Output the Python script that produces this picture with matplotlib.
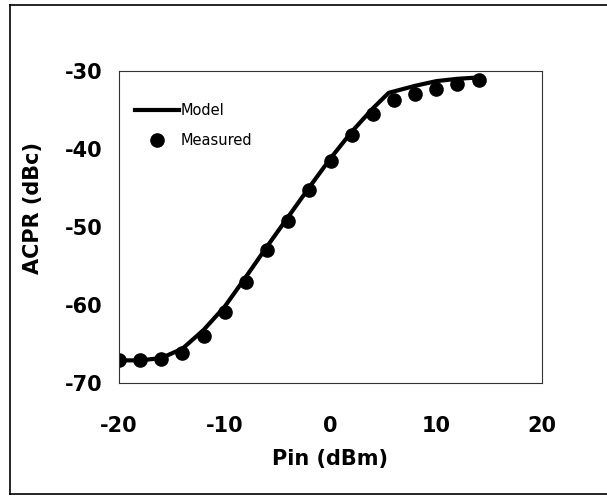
import matplotlib
matplotlib.use("Agg")
import matplotlib.pyplot as plt
from matplotlib.lines import Line2D

# Pin (dBm)
pin_measured = [-20, -18, -16, -14, -12, -10, -8, -6, -4, -2, 0, 2, 4, 6, 8, 10, 12, 14]
acpr_measured = [-67.1, -67.1, -66.9, -66.1, -64.0, -60.9, -57.0, -53.0, -49.2, -45.3,
                 -41.6, -38.2, -35.5, -33.7, -32.9, -32.3, -31.7, -31.2]

pin_model = [-20, -18, -16, -14, -12, -10, -8, -6, -4, -2, 0, 2, 4, 5.5, 8, 10, 12, 14.3]
acpr_model = [-67.1, -67.1, -66.8, -65.6, -63.2, -60.2, -56.4, -52.5, -48.7, -44.9,
              -41.2, -37.8, -34.8, -32.8, -31.9, -31.3, -31.0, -30.8]

xticks = [-20, -10, 0, 10, 20]
yticks = [-70, -60, -50, -40, -30]

plt.rcParams['font.family'] = ['DejaVu Sans']

W, H = 607, 496
fig = plt.figure(figsize=(W / 100, H / 100), dpi=100)
ax = fig.add_axes([119 / W, 1 - 383 / H, (542 - 119) / W, (383 - 71) / H])

ax.plot(pin_model, acpr_model, color='black', linewidth=3.0, solid_joinstyle='round')
ax.plot(pin_measured, acpr_measured, linestyle='none', marker='o', markersize=9.5,
        color='black')

ax.set_xlim(-20, 20)
ax.set_ylim(-70, -30)
ax.set_xticks(xticks)
ax.set_yticks(yticks)
ax.set_xticklabels([str(t) for t in xticks], fontsize=15, fontweight='bold')
ax.set_yticklabels([str(t) for t in yticks], fontsize=15, fontweight='bold')
ax.tick_params(axis='both', length=0)
ax.tick_params(axis='x', pad=24)
ax.tick_params(axis='y', pad=12)
for s in ax.spines.values():
    s.set_linewidth(0.8)
    s.set_color('#333333')

ax.set_xlabel('Pin (dBm)', fontsize=15, fontweight='bold', labelpad=9)
fig.text(33 / W, 1 - 208 / H, 'ACPR (dBc)', rotation=90, fontsize=15,
         fontweight='bold', ha='center', va='center')

# legend drawn by hand
legend_handles = [
    Line2D([0], [0], color='black', linewidth=3.0),
    Line2D([0], [0], color='black', linestyle='none', marker='o', markersize=9.5),
]
ax.legend(legend_handles, ['Model', 'Measured'], loc='upper left',
          bbox_to_anchor=(0.025, 0.915), frameon=False, fontsize=10.5,
          handlelength=3.0, handletextpad=0.1, labelspacing=1.0,
          borderaxespad=0)

# outer frame of the figure
frame_kw = dict(color='black', linewidth=1.2, transform=fig.transFigure)
fig.add_artist(Line2D([10 / W, 10 / W], [1 - 5 / H, 1 - 494 / H], **frame_kw))
fig.add_artist(Line2D([10 / W, 1], [1 - 5 / H, 1 - 5 / H], **frame_kw))
fig.add_artist(Line2D([10 / W, 1], [1 - 494 / H, 1 - 494 / H], **frame_kw))

fig.savefig('out.png', dpi=100)
